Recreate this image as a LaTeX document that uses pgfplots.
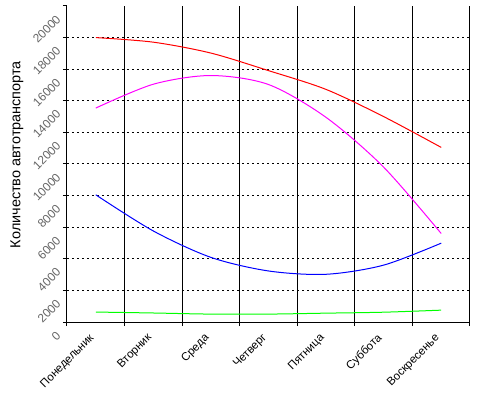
\documentclass[border=0pt]{standalone}
\usepackage{fontspec}
\setmainfont{Liberation Sans}
\usepackage{pgfplots}
\pgfplotsset{compat=1.18}
\definecolor{cred}{RGB}{255,0,0}
\definecolor{cmag}{RGB}{255,0,255}
\definecolor{cblue}{RGB}{0,0,255}
\definecolor{cgreen}{RGB}{0,255,0}
\begin{document}
\begin{tikzpicture}
\useasboundingbox (-67bp,-73bp) rectangle (417bp,322bp);
\begin{axis}[
  at={(0,0)}, anchor=south west,
  scale only axis, width=403bp, height=316bp,
  xmin=0, xmax=7, ymin=0, ymax=20000,
  axis x line*=bottom, axis y line*=left,
  axis line style={black, line width=1bp, -},
  tick style={black, line width=1bp},
  tick align=outside, major tick length=4bp,
  xtick={0,...,7}, xticklabels={},
  ytick={0,2000,...,20000},
  scaled y ticks=false,
  /pgf/number format/assume math mode=true,
  /pgf/number format/1000 sep={},
  yticklabel style={xshift=-2bp, yshift=-9bp, rotate=45, anchor=east, color=black!60, font=\fontsize{12}{14}\selectfont},
  xmajorgrids, major grid style={black, line width=1bp},
  extra x ticks={0.5,1.5,2.5,3.5,4.5,5.5,6.5},
  extra x tick labels={Понедельник,Вторник,Среда,Четверг,Пятница,Суббота,Воскресенье},
  extra x tick style={major tick length=0pt, grid=none, tick label style={xshift=-1bp, yshift=-12bp, rotate=45, anchor=east, font=\fontsize{11.5}{13}\selectfont}},
  extra y ticks={2000,4000,...,18000},
  extra y tick labels={},
  extra y tick style={major tick length=0pt, grid=major, major grid style={black, line width=1bp, dash pattern=on 2bp off 3bp}},
  every axis y label/.style={at={(axis description cs:-0.124,0.53)}, rotate=90, anchor=center, font=\fontsize{14.5}{16}\selectfont},
  ylabel={Количество автотранспорта},
  clip=false,
]
\addplot[cred, line width=1bp, smooth] coordinates {(0.5,18000) (1.5,17710) (2.5,17020) (3.5,15910) (4.5,14720) (5.5,13000) (6.5,11050)};
\addplot[cmag, line width=1bp, smooth] coordinates {(0.5,13540) (1.5,15050) (2.5,15600) (3.5,15030) (4.5,12950) (5.5,9800) (6.5,5600)};
\addplot[cblue, line width=1bp, smooth] coordinates {(0.5,8050) (1.5,5760) (2.5,4090) (3.5,3230) (4.5,3020) (5.5,3600) (6.5,4990)};
\addplot[cgreen, line width=1bp, smooth] coordinates {(0.5,630) (1.5,570) (2.5,500) (3.5,500) (4.5,560) (5.5,620) (6.5,750)};
\end{axis}
\end{tikzpicture}
\end{document}
